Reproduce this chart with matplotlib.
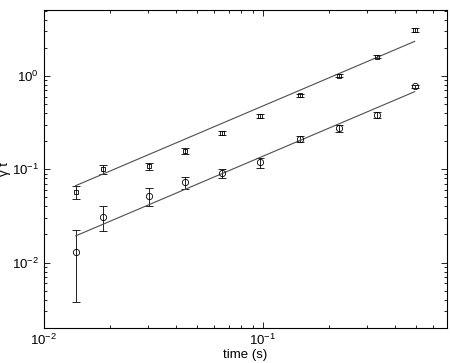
import numpy as np
import matplotlib
matplotlib.use("Agg")
import matplotlib.pyplot as plt

plt.rcParams['font.family'] = ['Liberation Sans', 'DejaVu Sans']
plt.rcParams['mathtext.fontset'] = 'custom'
plt.rcParams['mathtext.rm'] = 'Liberation Sans'

# temps des mesures (s)
t = [0.0140, 0.0187, 0.0302, 0.0442, 0.0650, 0.0973, 0.148, 0.222, 0.332, 0.494]

# serie carres (haut)
sq_y = [0.0575, 0.100, 0.108, 0.158, 0.245, 0.373, 0.621, 1.01, 1.60, 3.11]
sq_lo = [0.0484, 0.090, 0.098, 0.146, 0.233, 0.355, 0.600, 0.975, 1.55, 2.98]
sq_hi = [0.0667, 0.112, 0.118, 0.169, 0.258, 0.390, 0.643, 1.045, 1.66, 3.24]

# serie cercles (bas)
ci_y = [0.0130, 0.0310, 0.0518, 0.0726, 0.0906, 0.119, 0.211, 0.279, 0.382, 0.776]
ci_lo = [0.00375, 0.0218, 0.0404, 0.061, 0.081, 0.103, 0.197, 0.253, 0.355, 0.74]
ci_hi = [0.0224, 0.0401, 0.063, 0.0833, 0.101, 0.133, 0.226, 0.301, 0.41, 0.81]

# droites d'ajustement (extremites)
fit_t = [0.0140, 0.494]
fit_sq = [0.0667, 2.35]
fit_ci = [0.0193, 0.679]

fig = plt.figure(figsize=(4.5, 3.63), dpi=100)
ax = fig.add_axes([0.097, 0.0972, 0.8957, 0.8753])

def yerr(y, lo, hi):
    y = np.array(y)
    return [y - np.array(lo), np.array(hi) - y]

ax.errorbar(t, sq_y, yerr=yerr(sq_y, sq_lo, sq_hi), fmt='s', mfc='none', mec='k',
            ms=3.5, mew=0.6, ecolor='k', elinewidth=0.6, capsize=2.6, capthick=0.6)
ax.errorbar(t, ci_y, yerr=yerr(ci_y, ci_lo, ci_hi), fmt='o', mfc='none', mec='k',
            ms=4.5, mew=0.6, ecolor='k', elinewidth=0.6, capsize=2.6, capthick=0.6)
ax.plot(fit_t, fit_sq, color='0.3', lw=0.8)
ax.plot(fit_t, fit_ci, color='0.3', lw=0.8)

ax.set_xscale('log')
ax.set_yscale('log')
ax.set_xlim(0.01, 0.692)
ax.set_ylim(0.002, 5.1)
ax.set_xticks([0.01, 0.1])
ax.set_yticks([0.01, 0.1, 1])

ax.tick_params(which='both', direction='in', top=True, right=True, labelsize=9.5, width=0.6)
ax.tick_params(which='major', length=4)
ax.tick_params(which='minor', length=2)
for s in ax.spines.values():
    s.set_linewidth(0.8)

ax.set_xlabel('time (s)', fontsize=9.5, labelpad=1)
ax.set_ylabel('γ t', fontsize=9.5)
ax.yaxis.set_label_coords(-0.08, 0.5)

fig.savefig('out.png', dpi=100)
